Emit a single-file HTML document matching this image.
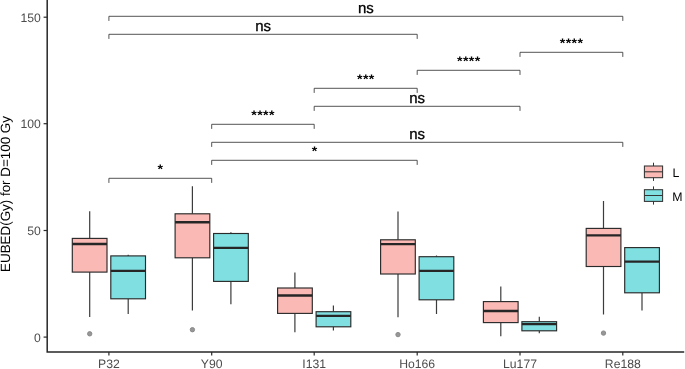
<!DOCTYPE html>
<html><head><meta charset="utf-8"><title>EUBED boxplot</title>
<style>html,body{margin:0;padding:0;background:#fff}svg{display:block}text{text-rendering:geometricPrecision}</style></head>
<body>
<svg width="685" height="369" viewBox="0 0 685 369">
<rect width="685" height="369" fill="#fff"/>
<path d="M89.7 211.2V238.4M89.7 272.1V317.1" stroke="#3c3c3c" stroke-width="1.2" fill="none"/>
<rect x="72.3" y="238.4" width="34.7" height="33.7" fill="#FBB9B5" stroke="#2a2a2a" stroke-width="1.15"/>
<path d="M72.3 244.0H107.0" stroke="#262626" stroke-width="2.4"/>
<circle cx="89.7" cy="333.8" r="2.2" fill="#979797" stroke="#858585" stroke-width="0.9"/>
<path d="M128.2 254.7V255.9M128.2 298.8V313.9" stroke="#3c3c3c" stroke-width="1.2" fill="none"/>
<rect x="110.8" y="255.9" width="34.7" height="42.9" fill="#7FDFE1" stroke="#2a2a2a" stroke-width="1.15"/>
<path d="M110.8 270.9H145.5" stroke="#262626" stroke-width="2.4"/>
<path d="M192.4 186.2V213.8M192.4 257.8V310.4" stroke="#3c3c3c" stroke-width="1.2" fill="none"/>
<rect x="175.1" y="213.8" width="34.7" height="44.0" fill="#FBB9B5" stroke="#2a2a2a" stroke-width="1.15"/>
<path d="M175.1 222.3H209.8" stroke="#262626" stroke-width="2.4"/>
<circle cx="192.4" cy="329.7" r="2.2" fill="#979797" stroke="#858585" stroke-width="0.9"/>
<path d="M230.9 232.2V233.5M230.9 281.4V304.2" stroke="#3c3c3c" stroke-width="1.2" fill="none"/>
<rect x="213.6" y="233.5" width="34.7" height="47.9" fill="#7FDFE1" stroke="#2a2a2a" stroke-width="1.15"/>
<path d="M213.6 247.9H248.3" stroke="#262626" stroke-width="2.4"/>
<path d="M294.9 272.6V288.0M294.9 313.4V332.2" stroke="#3c3c3c" stroke-width="1.2" fill="none"/>
<rect x="277.6" y="288.0" width="34.7" height="25.4" fill="#FBB9B5" stroke="#2a2a2a" stroke-width="1.15"/>
<path d="M277.6 295.5H312.3" stroke="#262626" stroke-width="2.4"/>
<path d="M333.4 305.5V311.7M333.4 326.8V330.4" stroke="#3c3c3c" stroke-width="1.2" fill="none"/>
<rect x="316.1" y="311.7" width="34.7" height="15.1" fill="#7FDFE1" stroke="#2a2a2a" stroke-width="1.15"/>
<path d="M316.1 315.9H350.8" stroke="#262626" stroke-width="2.4"/>
<path d="M398.0 211.6V239.8M398.0 274.0V317.2" stroke="#3c3c3c" stroke-width="1.2" fill="none"/>
<rect x="380.6" y="239.8" width="34.7" height="34.2" fill="#FBB9B5" stroke="#2a2a2a" stroke-width="1.15"/>
<path d="M380.6 244.1H415.3" stroke="#262626" stroke-width="2.4"/>
<circle cx="398.0" cy="334.6" r="2.2" fill="#979797" stroke="#858585" stroke-width="0.9"/>
<path d="M436.5 255.5V256.7M436.5 299.8V313.9" stroke="#3c3c3c" stroke-width="1.2" fill="none"/>
<rect x="419.1" y="256.7" width="34.7" height="43.1" fill="#7FDFE1" stroke="#2a2a2a" stroke-width="1.15"/>
<path d="M419.1 270.9H453.8" stroke="#262626" stroke-width="2.4"/>
<path d="M500.8 286.6V301.6M500.8 322.6V336.2" stroke="#3c3c3c" stroke-width="1.2" fill="none"/>
<rect x="483.4" y="301.6" width="34.7" height="21.0" fill="#FBB9B5" stroke="#2a2a2a" stroke-width="1.15"/>
<path d="M483.4 311.0H518.1" stroke="#262626" stroke-width="2.4"/>
<path d="M539.3 316.7V321.7M539.3 330.8V333.2" stroke="#3c3c3c" stroke-width="1.2" fill="none"/>
<rect x="521.9" y="321.7" width="34.7" height="9.1" fill="#7FDFE1" stroke="#2a2a2a" stroke-width="1.15"/>
<path d="M521.9 324.1H556.6" stroke="#262626" stroke-width="2.4"/>
<path d="M603.5 201.0V228.4M603.5 266.5V314.4" stroke="#3c3c3c" stroke-width="1.2" fill="none"/>
<rect x="586.2" y="228.4" width="34.7" height="38.1" fill="#FBB9B5" stroke="#2a2a2a" stroke-width="1.15"/>
<path d="M586.2 235.4H620.9" stroke="#262626" stroke-width="2.4"/>
<circle cx="603.5" cy="333.1" r="2.2" fill="#979797" stroke="#858585" stroke-width="0.9"/>
<path d="M642.0 247.5V247.6M642.0 292.8V310.4" stroke="#3c3c3c" stroke-width="1.2" fill="none"/>
<rect x="624.7" y="247.6" width="34.7" height="45.2" fill="#7FDFE1" stroke="#2a2a2a" stroke-width="1.15"/>
<path d="M624.7 261.6H659.4" stroke="#262626" stroke-width="2.4"/>
<path d="M47.2 0V352H684.2" stroke="#272727" stroke-width="1.5" fill="none"/>
<path d="M43.6 337.1H47.2" stroke="#2b2b2b" stroke-width="1.2"/>
<path d="M43.6 230.5H47.2" stroke="#2b2b2b" stroke-width="1.2"/>
<path d="M43.6 123.7H47.2" stroke="#2b2b2b" stroke-width="1.2"/>
<path d="M43.6 17.2H47.2" stroke="#2b2b2b" stroke-width="1.2"/>
<path d="M108.9 352V355.5" stroke="#2b2b2b" stroke-width="1.2"/>
<path d="M211.7 352V355.5" stroke="#2b2b2b" stroke-width="1.2"/>
<path d="M314.2 352V355.5" stroke="#2b2b2b" stroke-width="1.2"/>
<path d="M417.2 352V355.5" stroke="#2b2b2b" stroke-width="1.2"/>
<path d="M520.0 352V355.5" stroke="#2b2b2b" stroke-width="1.2"/>
<path d="M622.8 352V355.5" stroke="#2b2b2b" stroke-width="1.2"/>
<g font-family="'Liberation Sans', Arial, sans-serif" font-size="12.2" fill="#4d4d4d">
<text x="40.8" y="341.8" text-anchor="end">0</text>
<text x="40.8" y="235.2" text-anchor="end">50</text>
<text x="40.8" y="128.4" text-anchor="end">100</text>
<text x="40.8" y="21.9" text-anchor="end">150</text>
<text x="108.9" y="368" text-anchor="middle">P32</text>
<text x="211.7" y="368" text-anchor="middle">Y90</text>
<text x="314.2" y="368" text-anchor="middle">I131</text>
<text x="417.2" y="368" text-anchor="middle">Ho166</text>
<text x="520.0" y="368" text-anchor="middle">Lu177</text>
<text x="622.8" y="368" text-anchor="middle">Re188</text>
</g>
<text transform="translate(10.2,194) rotate(-90)" text-anchor="middle" font-family="'Liberation Sans', Arial, sans-serif" font-size="13.4" fill="#000">EUBED(Gy) for D=100 Gy</text>
<g font-family="'Liberation Sans', Arial, sans-serif" font-size="15" fill="#000" text-anchor="middle">
<path d="M108.9 20.9V16.3H622.8V20.9" stroke="#2e2e2e" stroke-width="0.82" fill="none"/>
<text x="365.8" y="13.4" stroke="#000" stroke-width="0.3">ns</text>
<path d="M108.9 38.9V34.3H417.2V38.9" stroke="#2e2e2e" stroke-width="0.82" fill="none"/>
<text x="263.1" y="31.4" stroke="#000" stroke-width="0.3">ns</text>
<path d="M520.0 56.9V52.3H622.8V56.9" stroke="#2e2e2e" stroke-width="0.82" fill="none"/>
<text transform="translate(571.6,40.6) scale(1,0.86)" x="0" y="7.3" font-size="14.2" letter-spacing="0.4" font-weight="bold">****</text>
<path d="M417.2 74.9V70.3H520.0V74.9" stroke="#2e2e2e" stroke-width="0.82" fill="none"/>
<text transform="translate(468.8,58.6) scale(1,0.86)" x="0" y="7.3" font-size="14.2" letter-spacing="0.4" font-weight="bold">****</text>
<path d="M314.2 92.9V88.3H417.2V92.9" stroke="#2e2e2e" stroke-width="0.82" fill="none"/>
<text transform="translate(365.9,76.6) scale(1,0.86)" x="0" y="7.3" font-size="14.2" letter-spacing="0.4" font-weight="bold">***</text>
<path d="M314.2 110.9V106.3H520.0V110.9" stroke="#2e2e2e" stroke-width="0.82" fill="none"/>
<text x="417.1" y="103.4" stroke="#000" stroke-width="0.3">ns</text>
<path d="M211.7 128.9V124.3H314.2V128.9" stroke="#2e2e2e" stroke-width="0.82" fill="none"/>
<text transform="translate(263.1,112.6) scale(1,0.86)" x="0" y="7.3" font-size="14.2" letter-spacing="0.4" font-weight="bold">****</text>
<path d="M211.7 146.9V142.3H622.8V146.9" stroke="#2e2e2e" stroke-width="0.82" fill="none"/>
<text x="417.2" y="139.4" stroke="#000" stroke-width="0.3">ns</text>
<path d="M211.7 164.9V160.3H417.2V164.9" stroke="#2e2e2e" stroke-width="0.82" fill="none"/>
<text transform="translate(314.7,148.6) scale(1,0.86)" x="0" y="7.3" font-size="14.2" letter-spacing="0.4" font-weight="bold">*</text>
<path d="M108.9 182.9V178.3H211.7V182.9" stroke="#2e2e2e" stroke-width="0.82" fill="none"/>
<text transform="translate(160.5,166.6) scale(1,0.86)" x="0" y="7.3" font-size="14.2" letter-spacing="0.4" font-weight="bold">*</text>
</g>
<path d="M653.5 162.7V180.9" stroke="#333333" stroke-width="1.05"/>
<rect x="644.4" y="166.0" width="18.2" height="11.7" fill="#FBB9B5" stroke="#333333" stroke-width="1.05"/>
<path d="M644.4 171.8H662.6" stroke="#333333" stroke-width="1.05"/>
<path d="M653.5 186.4V204.6" stroke="#333333" stroke-width="1.05"/>
<rect x="644.4" y="189.7" width="18.2" height="11.7" fill="#7FDFE1" stroke="#333333" stroke-width="1.05"/>
<path d="M644.4 195.5H662.6" stroke="#333333" stroke-width="1.05"/>
<g font-family="'Liberation Sans', Arial, sans-serif" font-size="12.3" fill="#000">
<text x="672.5" y="177.1">L</text><text x="672.3" y="200.5">M</text>
</g>
</svg>
</body></html>
